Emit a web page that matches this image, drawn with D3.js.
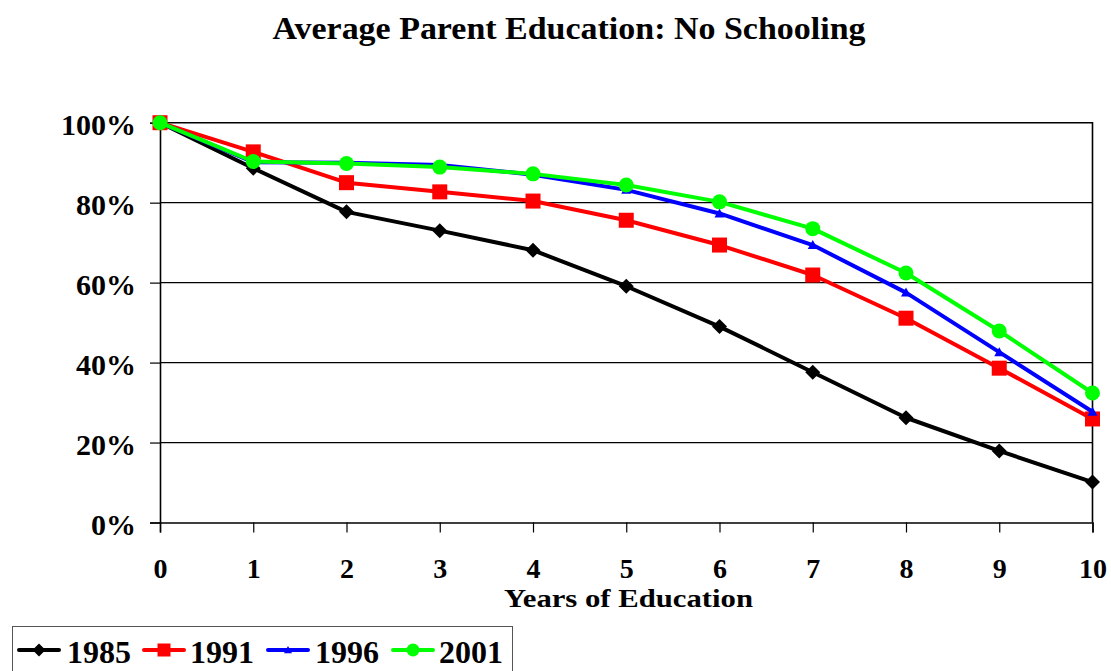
<!DOCTYPE html>
<html>
<head>
<meta charset="utf-8">
<script src="https://cdn.jsdelivr.net/npm/d3@7"></script>
<style>
  html, body { margin: 0; padding: 0; background: #fff; }
  svg { display: block; }
  text { font-family: "Liberation Serif", "Times New Roman", serif; font-weight: bold; fill: #000; }
</style>
</head>
<body>
<svg id="chart" width="1111" height="671"></svg>
<script>
// Years of schooling (x categories)
const years = [0, 1, 2, 3, 4, 5, 6, 7, 8, 9, 10];

// Share still in school (percent) by survey year
const series1985 = [100, 88.6, 77.7, 73.0, 68.1, 59.1, 49.0, 37.6, 26.2, 17.9, 10.1];
const series1991 = [100, 92.7, 85.0, 82.7, 80.4, 75.6, 69.4, 61.9, 51.1, 38.6, 25.9];
const series1996 = [100, 90.1, 90.0, 89.4, 87.0, 83.2, 77.3, 69.4, 57.5, 42.6, 27.7];
const series2001 = [100, 90.3, 89.8, 88.9, 87.2, 84.4, 80.2, 73.5, 62.4, 47.9, 32.4];

const seriesNames = ["1985", "1991", "1996", "2001"];
const yTicks = [0, 20, 40, 60, 80, 100];

const seriesList = [
  { name: seriesNames[0], values: series1985, color: "#000000", marker: "diamond" },
  { name: seriesNames[1], values: series1991, color: "#ff0000", marker: "square" },
  { name: seriesNames[2], values: series1996, color: "#0000ff", marker: "triangle" },
  { name: seriesNames[3], values: series2001, color: "#00ff00", marker: "circle" }
];

const svg = d3.select("#chart");

const plot = { left: 160, right: 1092.5, top: 122.7, bottom: 522.5 };

const x = d3.scaleLinear().domain([0, 10]).range([plot.left, plot.right]);
const y = d3.scaleLinear().domain([0, 100]).range([plot.bottom, plot.top]);

// Title
svg.append("text")
  .attr("x", 272.5).attr("y", 38.5)
  .attr("font-size", 32)
  .attr("textLength", 593).attr("lengthAdjust", "spacingAndGlyphs")
  .text("Average Parent Education: No Schooling");

// Horizontal gridlines
svg.append("g").selectAll("line")
  .data(yTicks.filter(d => d > 0 && d < 100))
  .join("line")
  .attr("x1", plot.left).attr("x2", plot.right)
  .attr("y1", d => y(d)).attr("y2", d => y(d))
  .attr("stroke", "#000").attr("stroke-width", 1.2);

// Plot frame: top and right edges
svg.append("path")
  .attr("d", `M${plot.left},${plot.top}H${plot.right}V${plot.bottom}`)
  .attr("fill", "none").attr("stroke", "#000").attr("stroke-width", 1.6);

// Y axis
const yAxis = d3.axisLeft(y).tickValues(yTicks).tickSize(10).tickPadding(14)
  .tickFormat(d => d + "%");
const gy = svg.append("g").attr("transform", `translate(${plot.left},0)`).call(yAxis);
gy.attr("font-family", null);
gy.select(".domain").attr("stroke", "#000").attr("stroke-width", 1.6);
gy.selectAll(".tick line").attr("stroke", "#000").attr("stroke-width", 1.2);
gy.selectAll(".tick text")
  .attr("font-size", 30)
  .attr("dy", "0.4em");

// X axis
const xAxis = d3.axisBottom(x).tickValues(years).tickSize(10).tickPadding(0)
  .tickFormat(d3.format("d"));
const gx = svg.append("g").attr("transform", `translate(0,${plot.bottom})`).call(xAxis);
gx.attr("font-family", null);
gx.select(".domain").attr("stroke", "#000").attr("stroke-width", 1.6);
gx.selectAll(".tick line").attr("stroke", "#000").attr("stroke-width", 1.2);
gx.selectAll(".tick text")
  .attr("font-size", 28)
  .attr("y", 55).attr("dy", null);

// X axis title
svg.append("text")
  .attr("x", 504).attr("y", 607)
  .attr("font-size", 26)
  .attr("textLength", 249).attr("lengthAdjust", "spacingAndGlyphs")
  .text("Years of Education");

// Marker drawing
function drawMarker(sel, type, color, size) {
  if (type === "diamond") {
    sel.append("path").attr("d", `M0,${-size}L${size},0L0,${size}L${-size},0Z`).attr("fill", color);
  } else if (type === "square") {
    sel.append("rect").attr("x", -size).attr("y", -size).attr("width", size * 2).attr("height", size * 2).attr("fill", color);
  } else if (type === "triangle") {
    sel.append("path").attr("d", `M0,${-size}L${size},${size * 0.8}L${-size},${size * 0.8}Z`).attr("fill", color);
  } else {
    sel.append("circle").attr("r", size).attr("fill", color);
  }
}
const markerSize = { diamond: 7.5, square: 7.5, triangle: 5, circle: 7.5 };

const line = d3.line().x((d, i) => x(years[i])).y(d => y(d));

seriesList.forEach(s => {
  const g = svg.append("g");
  g.append("path")
    .attr("d", line(s.values))
    .attr("fill", "none").attr("stroke", s.color)
    .attr("stroke-width", 4).attr("stroke-linejoin", "round");
  s.values.forEach((v, i) => {
    const m = g.append("g").attr("transform", `translate(${x(years[i])},${y(v)})`);
    drawMarker(m, s.marker, s.color, markerSize[s.marker]);
  });
});

// Legend
const legend = svg.append("g");
legend.append("rect")
  .attr("x", 12.5).attr("y", 626.5).attr("width", 500).attr("height", 60)
  .attr("fill", "#fff").attr("stroke", "#555").attr("stroke-width", 1);

const legendItems = [
  { lineX: 19, textX: 67 },
  { lineX: 144, textX: 190 },
  { lineX: 268, textX: 315 },
  { lineX: 393, textX: 439 }
];
seriesList.forEach((s, i) => {
  const it = legendItems[i];
  const g = legend.append("g");
  g.append("line")
    .attr("x1", it.lineX).attr("x2", it.lineX + 40)
    .attr("y1", 650).attr("y2", 650)
    .attr("stroke", s.color).attr("stroke-width", 4).attr("stroke-linecap", "round");
  const m = g.append("g").attr("transform", `translate(${it.lineX + 20},650)`);
  drawMarker(m, s.marker, s.color, s.marker === "triangle" ? 4 : 6.5);
  g.append("text")
    .attr("x", it.textX).attr("y", 663)
    .attr("font-size", 32)
    .attr("textLength", 64).attr("lengthAdjust", "spacingAndGlyphs")
    .text(s.name);
});
</script>
</body>
</html>
